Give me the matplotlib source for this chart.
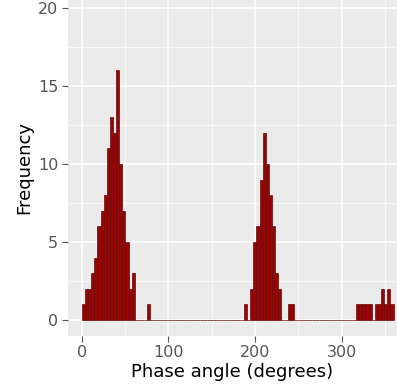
import numpy as np
import matplotlib
matplotlib.use("Agg")
import matplotlib.pyplot as plt

# histogram of phase angles, 100 bins over 0-360 degrees
bin_width = 3.6
counts = (
    [1, 2, 2, 3, 4, 6, 7, 8, 11, 13, 12, 16, 10, 7, 5, 2, 3, 0, 0, 0, 0, 1]
    + [0] * 30
    + [1, 0, 2, 5, 6, 9, 12, 10, 8, 6, 3, 2, 0, 0, 1, 1]
    + [0] * 20
    + [1, 1, 1, 1, 1, 0, 1, 1, 2, 1, 2, 1]
)
bin_left = np.arange(len(counts)) * bin_width

x_ticks = [0, 100, 200, 300]
y_ticks = [0, 5, 10, 15, 20]

fig = plt.figure(figsize=(3.97, 3.88), dpi=100)
ax = fig.add_axes([68 / 397, 52.4 / 388, 329 / 397, 335.6 / 388])
ax.set_facecolor("#EBEBEB")

ax.bar(bin_left, counts, width=bin_width, align="edge",
       color="#960505", edgecolor="#6a0808", linewidth=0.5, zorder=3)

ax.set_xlim(-16, 364)
ax.set_ylim(-1, 20.5)
ax.set_xticks(x_ticks)
ax.set_yticks(y_ticks)
ax.set_xticks([50, 150, 250, 350], minor=True)
ax.set_yticks([2.5, 7.5, 12.5, 17.5], minor=True)
ax.grid(which="major", color="white", linewidth=1.1, zorder=0)
ax.grid(which="minor", color="white", linewidth=0.5, zorder=0)
ax.set_axisbelow(True)
for s in ax.spines.values():
    s.set_visible(False)

ax.tick_params(which="major", length=4, color="#555555", labelcolor="#555555",
               labelsize=11.5, pad=3)
ax.tick_params(which="minor", length=0)

ax.set_xlabel("Phase angle (degrees)", fontsize=13, labelpad=2)
ax.set_ylabel("Frequency", fontsize=13, labelpad=3)

fig.savefig("out.png", dpi=100)
